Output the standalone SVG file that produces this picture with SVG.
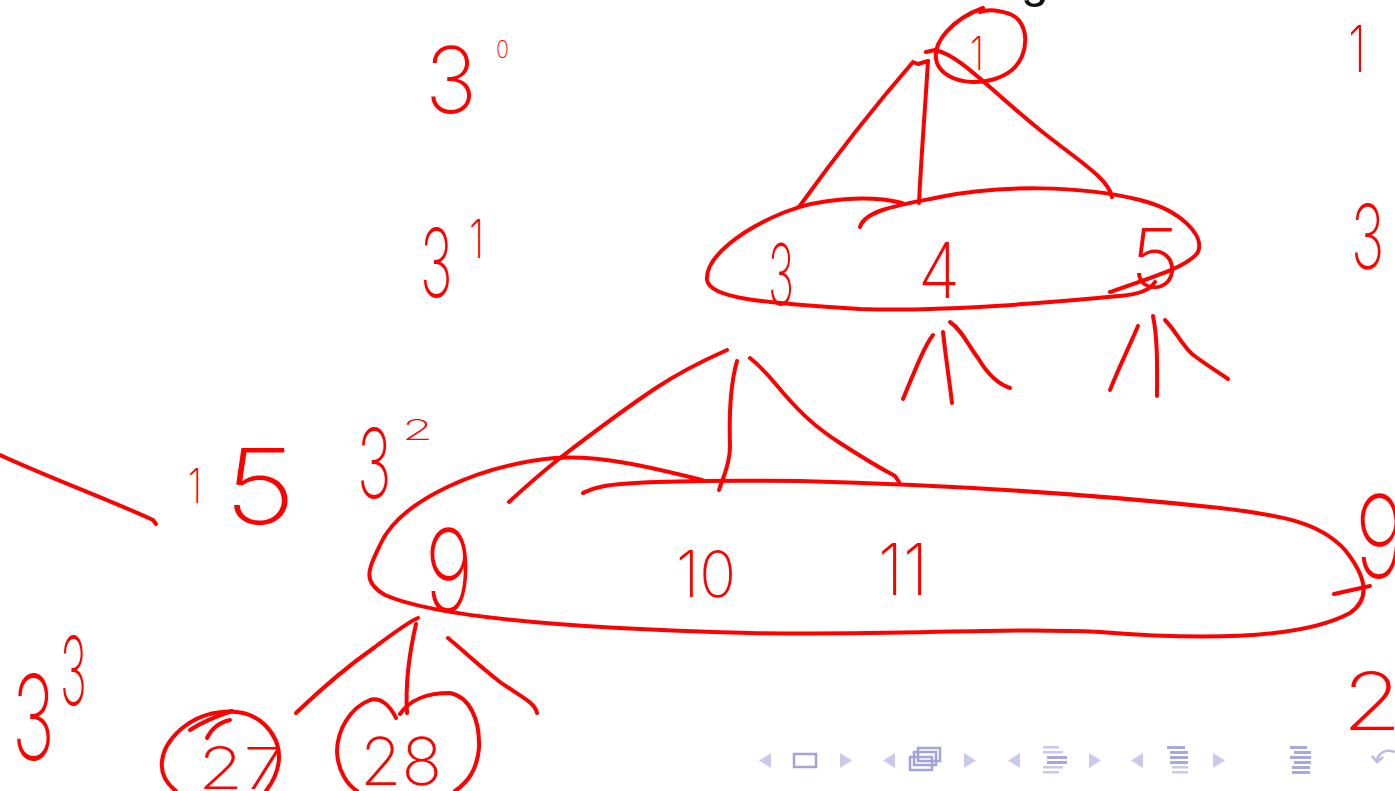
<svg xmlns="http://www.w3.org/2000/svg" width="1395" height="791" viewBox="0 0 1395 791">
<style>
.s{fill:none;stroke:#ff0000;stroke-width:4;stroke-linecap:round;stroke-linejoin:round}
.t{fill:#ff0000;font-family:Inter,"Liberation Sans",sans-serif;font-weight:200}
.nl{fill:#c9c9ec}
.nd{fill:none;stroke:#a3a3d8;stroke-width:2.5}
.nb{fill:#a8a8dc}
</style>
<rect width="1395" height="791" fill="#ffffff"/>
<text x="1035" y="-3" font-family="Liberation Sans,sans-serif" font-size="50" text-anchor="middle" fill="#111">g</text>

<g id="labels">
<text class="t" x="425" y="113" font-size="92" textLength="52" lengthAdjust="spacingAndGlyphs">3</text>
<text class="t" x="496" y="58" font-size="24" textLength="13" lengthAdjust="spacingAndGlyphs">0</text>
<text class="t" transform="translate(420,297) scale(1,1.72)" font-size="55">3</text>
<text class="t" transform="translate(469,258) scale(1,1.35)" font-size="40">1</text>
<text class="t" transform="translate(357,498) scale(1,1.66)" font-size="58">3</text>
<text class="t" transform="translate(402,440) scale(1.8,1)" font-size="28">2</text>
<text class="t" x="188" y="503" font-size="48" textLength="14" lengthAdjust="spacingAndGlyphs">1</text>
<text class="t" x="224" y="524" font-size="105" textLength="72" lengthAdjust="spacingAndGlyphs">5</text>
<text class="t" transform="translate(12,760) scale(1,1.63)" font-size="72">3</text>
<text class="t" transform="translate(60,705) scale(1,2.1)" font-size="45">3</text>
<text class="t" x="1348" y="72" font-size="65" textLength="18" lengthAdjust="spacingAndGlyphs">1</text>
<text class="t" transform="translate(1351,269) scale(1,1.6)" font-size="56">3</text>
<text class="t" x="1355" y="578" font-size="115" textLength="50" lengthAdjust="spacingAndGlyphs">9</text>
<text class="t" x="1342" y="730" font-size="80" textLength="60" lengthAdjust="spacingAndGlyphs">2</text>
<path class="s" d="M0 455 C50 478 110 500 153 520 L156 524"/>
</g>

<g id="node-1">
<path class="s" d="M983 8 C955 18 930 42 937 63 C946 86 990 88 1012 70 C1030 55 1030 22 1010 14 C995 9 985 10 980 12"/>
<text class="t" x="970" y="70" font-size="46" textLength="14" lengthAdjust="spacingAndGlyphs">1</text>
</g>

<g id="node-3-4-5">
<path class="s" d="M860 227 C865 210 900 205 940 197 C1000 185 1080 185 1140 200 C1180 210 1205 235 1198 252 C1190 265 1160 275 1110 292"/>
<path class="s" d="M902 203 C870 195 820 198 785 212 C740 230 705 258 707 280 C710 298 760 303 860 309 C950 312 1050 302 1120 296 C1140 294 1150 290 1155 282"/>
<text class="t" x="768" y="305" font-size="85" textLength="26" lengthAdjust="spacingAndGlyphs">3</text>
<text class="t" x="918" y="298" font-size="77" textLength="42" lengthAdjust="spacingAndGlyphs">4</text>
<text class="t" x="1130" y="288" font-size="82" textLength="50" lengthAdjust="spacingAndGlyphs">5</text>
</g>

<g id="node-9-10-11">
<path class="s" d="M702 480 C650 467 600 455 555 458 C480 465 400 500 380 545 C368 570 362 582 385 595 C430 615 550 628 750 633 C900 636 1000 627 1100 632 C1200 640 1300 640 1350 613 C1372 598 1365 575 1345 550 C1320 522 1280 515 1220 508 C1100 495 950 485 800 481 C700 480 620 482 600 487 C590 489 585 492 583 493"/>
<path class="s" d="M1334 594 L1370 586"/>
<text class="t" x="425" y="612" font-size="115" textLength="48" lengthAdjust="spacingAndGlyphs">9</text>
<text class="t" x="676" y="597" font-size="64" textLength="60" lengthAdjust="spacingAndGlyphs">10</text>
<text class="t" x="878" y="595" font-size="72" textLength="50" lengthAdjust="spacingAndGlyphs">11</text>
</g>

<g id="node-27">
<path class="s" d="M176 791 C155 775 158 750 180 730 C205 708 245 705 265 725 C285 745 282 770 266 791"/>
<path class="s" d="M190 730 C205 720 220 715 232 711 M207 738 C212 728 220 722 230 720"/>
<text class="t" x="198" y="789" font-size="58" textLength="86" lengthAdjust="spacingAndGlyphs">27</text>
</g>

<g id="node-28">
<path class="s" d="M396 718 C390 705 380 697 370 700 C350 708 337 730 337 752 C338 772 348 785 357 791 M400 714 C410 700 425 693 450 693 C470 697 480 720 479 748 C477 770 468 782 455 791"/>
<text class="t" x="360" y="785" font-size="66" textLength="82" lengthAdjust="spacingAndGlyphs">28</text>
</g>

<g id="connectors">
<path class="s" d="M799 207 C840 150 880 100 913 62 L918 64 L928 61"/>
<path class="s" d="M928 61 C925 110 921 160 919 203"/>
<path class="s" d="M926 52 L935 50 C960 55 990 90 1040 130 C1080 162 1108 178 1112 197"/>
<path class="s" d="M903 399 C915 370 925 345 933 335"/>
<path class="s" d="M943 332 C946 360 950 385 952 403"/>
<path class="s" d="M950 322 C962 330 968 345 978 358 C988 375 998 384 1010 388"/>
<path class="s" d="M1110 390 C1120 365 1130 345 1138 326"/>
<path class="s" d="M1153 316 C1158 340 1157 370 1157 396"/>
<path class="s" d="M1165 320 C1175 330 1182 345 1192 354 C1205 364 1218 372 1228 379"/>
<path class="s" d="M727 350 C700 362 680 372 656 388 C620 412 590 435 560 458 C540 474 522 490 509 502"/>
<path class="s" d="M737 361 C730 385 729 415 730 447 C730 465 722 480 719 490"/>
<path class="s" d="M750 358 C765 370 772 380 785 395 C800 412 815 427 840 443 C860 456 880 468 895 476 L899 482"/>
<path class="s" d="M296 713 C320 690 345 668 375 647 C395 632 408 622 418 618"/>
<path class="s" d="M416 624 C410 650 405 680 407 713"/>
<path class="s" d="M448 638 C465 652 478 665 500 682 C518 695 535 702 537 713"/>
</g>

<g id="navigation">
<path class="nl" d="M771 753 L759 760.5 L771 768 Z"/>
<rect class="nd" x="794" y="754" width="22" height="13"/>
<path class="nl" d="M840 753 L852 760.5 L840 768 Z"/>
<path class="nl" d="M895 753 L883 760.5 L895 768 Z"/>
<rect class="nd" x="918" y="748" width="22" height="13" fill="#fff"/>
<rect class="nd" x="914" y="752" width="22" height="13" fill="#fff"/>
<rect class="nd" x="910" y="757" width="22" height="13" fill="#fff"/>
<path class="nl" d="M964 753 L976 760.5 L964 768 Z"/>
<path class="nl" d="M1020 753 L1008 760.5 L1020 768 Z"/>
<g class="nl"><rect x="1043" y="746" width="16" height="2.5"/><rect x="1043" y="751" width="20" height="2.5"/><rect x="1043" y="771" width="16" height="2.5"/><rect x="1043" y="766" width="20" height="2.5"/></g>
<g class="nb"><rect x="1047" y="756" width="20" height="3"/><rect x="1047" y="761" width="20" height="3"/></g>
<path class="nl" d="M1089 753 L1101 760.5 L1089 768 Z"/>
<path class="nl" d="M1143 753 L1131 760.5 L1143 768 Z"/>
<g class="nb"><rect x="1167" y="746" width="18" height="3"/><rect x="1170" y="751" width="18" height="3"/><rect x="1170" y="756" width="18" height="3"/><rect x="1170" y="761" width="18" height="3"/></g>
<g class="nl"><rect x="1172" y="766" width="16" height="2.5"/><rect x="1172" y="771" width="16" height="2.5"/></g>
<path class="nl" d="M1213 753 L1225 760.5 L1213 768 Z"/>
<g class="nb"><rect x="1290" y="746" width="17" height="3"/><rect x="1294" y="751" width="17" height="3"/><rect x="1290" y="756" width="21" height="3"/><rect x="1294" y="761" width="17" height="3"/><rect x="1292" y="766" width="18" height="3"/><rect x="1292" y="771" width="18" height="3"/></g>
<path d="M1395 752 C1385 748 1378 754 1377 760 M1372 756 L1377 762 L1383 757" fill="none" stroke="#b8b8e2" stroke-width="2.5"/>
</g>
</svg>
